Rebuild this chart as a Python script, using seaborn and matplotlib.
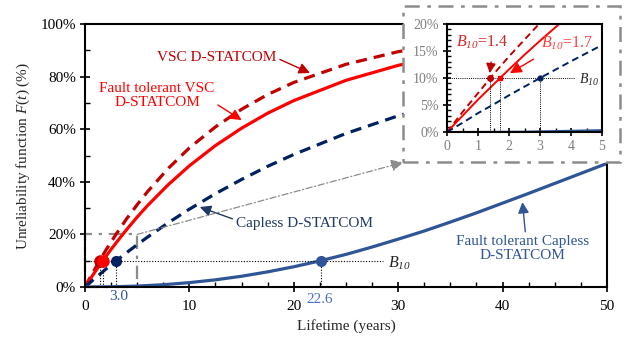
import numpy as np
import pandas as pd
import seaborn as sns
import matplotlib
matplotlib.use("Agg")
import matplotlib.pyplot as plt
from matplotlib.patches import Rectangle
from matplotlib.ticker import MultipleLocator, FuncFormatter

# ---------------- data ----------------
t_fast = [0, 0.5, 1, 1.5, 2, 2.5, 3, 4, 5, 6, 8, 10, 12.5, 15, 17.5, 20, 25, 30, 35, 40, 45, 50]
vsc = [0, 3.7, 7.2, 10.7, 14.0, 17.1, 20.2, 26.0, 31.3, 36.3, 45.2, 52.9, 60.9, 67.6, 73.2, 77.8, 84.7, 89.5, 92.8, 95.1, 96.6, 97.7]
ft_vsc = [0, 3.0, 6.0, 8.8, 11.6, 14.3, 16.9, 21.9, 26.6, 31.0, 39.0, 46.1, 53.8, 60.4, 66.1, 70.9, 78.6, 84.3, 88.5, 91.5, 93.8, 95.4]
capless = [0, 1.7, 3.5, 5.1, 6.8, 8.4, 10.0, 13.1, 16.1, 19.0, 24.5, 29.6, 35.5, 40.9, 45.9, 50.4, 58.4, 65.1, 70.7, 75.4, 79.4, 82.7]
t_slow = [0, 2.5, 5, 7.5, 10, 12.5, 15, 17.5, 20, 22.5, 25, 27.5, 30, 32.5, 35, 37.5, 40, 42.5, 45, 47.5, 50]
ft_capless = [0, 0.07, 0.35, 0.87, 1.66, 2.73, 4.09, 5.76, 7.70, 9.93, 12.4, 15.2, 18.2, 21.3, 24.7, 28.2, 31.9, 35.6, 39.4, 43.2, 47.0]

b10_values = [1.4, 1.7, 3.0, 22.6]
b10_level = 10
xticks_main = [0, 10, 20, 30, 40, 50]
yticks_main = [0, 20, 40, 60, 80, 100]
xticks_inset = [0, 1, 2, 3, 4, 5]
yticks_inset = [0, 5, 10, 15, 20]

C_VSC = "#C00000"
C_FTVSC = "#FF0000"
C_CAP = "#002060"
C_FTCAP = "#2F5597"
C_GREY = "#8C8C8C"

# ---------------- style ----------------
sns.set_theme(style="white")
plt.rcParams["font.family"] = ["Liberation Serif", "DejaVu Serif"]
plt.rcParams["mathtext.fontset"] = "custom"
plt.rcParams["mathtext.rm"] = "Liberation Serif"
plt.rcParams["mathtext.it"] = "Liberation Serif:italic"
plt.rcParams["mathtext.sf"] = "Liberation Serif:italic"

B10 = r"$\mathsf{B}_{\mathsf{10}}$"

fig = plt.figure(figsize=(6.29, 3.39), dpi=100)
ax = fig.add_axes([0.1351, 0.1534, 0.965 - 0.1351, 0.929 - 0.1534])

def draw_curves(a, lw):
    sns.lineplot(x=t_fast, y=vsc, ax=a, color=C_VSC, lw=lw, linestyle=(0, (3.5, 2.2)))
    sns.lineplot(x=t_fast, y=ft_vsc, ax=a, color=C_FTVSC, lw=lw)
    sns.lineplot(x=t_fast, y=capless, ax=a, color=C_CAP, lw=lw, linestyle=(0, (3.5, 2.2)))
    sns.lineplot(x=t_slow, y=ft_capless, ax=a, color=C_FTCAP, lw=lw)

draw_curves(ax, 2.3)
ax.set_xlim(0, 50)
ax.set_ylim(0, 100)

def style_axes(a, fs, lab_color="black"):
    for s in a.spines.values():
        s.set_visible(True)
        s.set_color("black")
        s.set_linewidth(1.5)
    a.tick_params(which="major", direction="inout", length=7, width=1.2,
                  labelsize=fs, colors="black", labelcolor=lab_color, pad=3,
                  bottom=True, left=True)
    a.tick_params(which="minor", direction="in", length=3.5, width=1.0,
                  bottom=True, left=True, colors="black")

ax.set_xticks(xticks_main)
ax.set_yticks(yticks_main)
ax.xaxis.set_minor_locator(MultipleLocator(2.5))
ax.yaxis.set_minor_locator(MultipleLocator(10))
ax.yaxis.set_major_formatter(FuncFormatter(lambda v, p: f"{v:.0f}%"))
style_axes(ax, 11)
ax.tick_params(axis="x", which="major", pad=6)
ax.set_xlabel("Lifetime (years)", fontsize=11, labelpad=4)
ax.set_ylabel(r"Unreliability function $\mathit{F}(\mathit{t})$ (%)", fontsize=11, labelpad=6)

# zoom rectangle in main
ax.add_patch(Rectangle((0, 0), 5, 20, fill=False, ec=C_GREY, lw=1.6,
                       ls=(0, (6, 3, 1.5, 3)), zorder=1, clip_on=False))

# B10 lines and markers (main)
ax.plot([0, 28.5], [b10_level, b10_level], color="black", lw=0.8, ls=(0, (1, 1.5)), zorder=2)
for xv in b10_values:
    ax.plot([xv, xv], [0, b10_level], color="black", lw=0.8, ls=(0, (1, 1.5)), zorder=2)
ax.plot([b10_values[0]], [b10_level], "o", color=C_VSC, ms=8, zorder=5)
ax.plot([b10_values[1]], [b10_level], "o", color=C_FTVSC, ms=8, zorder=5)
ax.plot([b10_values[2]], [b10_level], "o", color=C_CAP, ms=7, zorder=5)
ax.plot([b10_values[3]], [b10_level], "o", color=C_FTCAP, ms=7, zorder=5)
ax.text(29.0, 9.2, B10, fontsize=11.5, va="center", ha="left")
ax.text(3.25, -3.8, "3.0", color=C_FTCAP, fontsize=11, ha="center", va="center", clip_on=False)
ax.text(22.5, -4.8, "22.6", color="#4472C4", fontsize=11, ha="center", va="center", clip_on=False)

# annotations (main)
arw = dict(arrowstyle="-|>,head_length=0.6,head_width=0.3", lw=1.0, shrinkA=0, shrinkB=0)
ax.annotate("VSC D-STATCOM", xy=(21.55, 81.4), xytext=(12.64, 87.1), color=C_VSC,
            fontsize=11, ha="center", va="center",
            arrowprops=dict(arw, color=C_VSC, relpos=(1.0, 0.5)))
ax.annotate("Fault tolerant VSC\nD-STATCOM", xy=(15.0, 63.5), xytext=(6.9, 73.0), color=C_FTVSC,
            fontsize=11, ha="center", va="center", linespacing=1.1,
            arrowprops=dict(arw, color=C_FTVSC, relpos=(0.93, 0.4)))
ax.annotate("Capless D-STATCOM", xy=(11.0, 30.4), xytext=(21.0, 24.0), color="#1F3864",
            fontsize=11, ha="center", va="center",
            arrowprops=dict(arw, color="#1F3864", relpos=(0.0, 0.8)))
ax.annotate("Fault tolerant Capless\nD-STATCOM", xy=(41.9, 32.3), xytext=(41.95, 14.6), color=C_FTCAP,
            fontsize=11, ha="center", va="center", linespacing=1.1,
            arrowprops=dict(arw, color=C_FTCAP, relpos=(0.52, 1.0)))

# ---------------- inset frame ----------------
box = fig.add_axes([0.641, 0.521, 0.345, 0.462])
box.set_axis_off()
box.add_patch(Rectangle((0, 0), 1, 1, transform=box.transAxes, fc="white", ec=C_GREY,
                        lw=1.8, ls=(0, (6, 3, 1.5, 3)), clip_on=False))
box.annotate("", xy=(0, 0), xycoords="axes fraction", xytext=(5, 20), textcoords=ax.transData,
             arrowprops=dict(arrowstyle="-|>,head_length=0.6,head_width=0.3", color=C_GREY, lw=0.9,
                             ls=(0, (5, 2, 1, 2)), shrinkA=0, shrinkB=0), annotation_clip=False)

# ---------------- inset ----------------
ins = fig.add_axes([0.7107, 0.6106, 0.2464, 0.3186])
draw_curves(ins, 1.4)
ins.set_xlim(0, 5)
ins.set_ylim(0, 20)
ins.set_xticks(xticks_inset)
ins.set_yticks(yticks_inset)
ins.xaxis.set_minor_locator(MultipleLocator(0.5))
ins.yaxis.set_minor_locator(MultipleLocator(1))
ins.yaxis.set_major_formatter(FuncFormatter(lambda v, p: f"{v:.0f}%"))
style_axes(ins, 10, lab_color="#7F7F7F")
ins.tick_params(which="major", length=6)
ins.tick_params(which="minor", length=3)
ins.set_xlabel("")
ins.set_ylabel("")
ins.set_facecolor("white")

ins.plot([0, 4.13], [b10_level, b10_level], color="black", lw=0.7, ls=(0, (1, 1.2)), zorder=2)
for xv in b10_values[:3]:
    ins.plot([xv, xv], [0, b10_level], color="black", lw=0.7, ls=(0, (1, 1.2)), zorder=2)
ins.plot([b10_values[0]], [b10_level], "o", color=C_VSC, ms=4, zorder=5)
ins.plot([b10_values[1]], [b10_level], "s", color=C_FTVSC, ms=3.5, zorder=5)
ins.plot([b10_values[2]], [b10_level], "o", color=C_CAP, ms=3.5, zorder=5)
ins.text(4.25, 9.6, B10, fontsize=10, va="center", ha="left")
ins.annotate(B10 + "=1.4", xy=(1.38, 10.9), xytext=(1.13, 16.7), color="#D02828",
             fontsize=11.5, ha="center", va="center",
             arrowprops=dict(arrowstyle="-|>,head_length=0.5,head_width=0.25", color=C_VSC, lw=1.0,
                             shrinkA=6, shrinkB=0, relpos=(0.7, 0.0)))
ins.annotate(B10 + "=1.7", xy=(2.03, 10.9), xytext=(3.87, 16.5), color="#FF4040",
             fontsize=11.5, ha="center", va="center",
             arrowprops=dict(arrowstyle="-|>,head_length=0.6,head_width=0.3", color=C_FTVSC, lw=1.0,
                             shrinkA=6, shrinkB=0, relpos=(0.1, 0.0)))

fig.savefig("out.png", dpi=100)
